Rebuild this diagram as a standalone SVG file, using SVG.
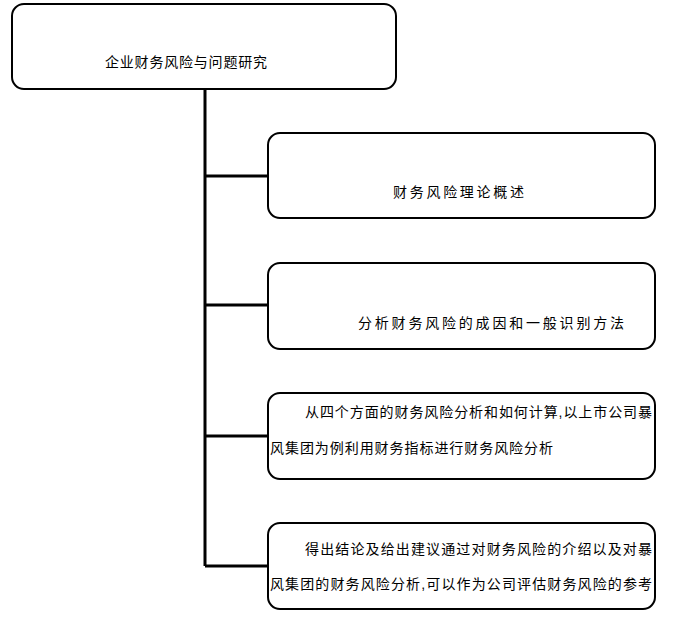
<svg xmlns="http://www.w3.org/2000/svg" width="684" height="617" viewBox="0 0 684 617">
<style>
.b{fill:#fff;stroke:#000;stroke-width:2}
.t{font-family:"Liberation Sans","Noto Sans CJK SC",sans-serif;font-size:14px;fill:#000}
.c{stroke:#000;stroke-width:3;fill:none}
</style>
<rect width="684" height="617" fill="#fff"/>
<g id="connectors">
<path class="c" d="M205 89V566M205 176H268M205 305H268M205 436H268M205 566H268"/>
</g>
<g id="root"><rect class="b" x="12" y="4" width="384" height="85" rx="12"/><text class="t" x="105" y="67" textLength="162">企业财务风险与问题研究</text></g>
<g id="n1"><rect class="b" x="268" y="133" width="387" height="85" rx="12"/><text class="t" x="393" y="197" textLength="131">财务风险理论概述</text></g>
<g id="n2"><rect class="b" x="268" y="263" width="387" height="86" rx="12"/><text class="t" x="358" y="328" textLength="266">分析财务风险的成因和一般识别方法</text></g>
<g id="n3"><rect class="b" x="268" y="393" width="387" height="86" rx="12"/><text class="t" x="305" y="417" textLength="347">从四个方面的财务风险分析和如何计算,以上市公司暴</text><text class="t" x="270" y="453" textLength="283">风集团为例利用财务指标进行财务风险分析</text></g>
<g id="n4"><rect class="b" x="268" y="523" width="387" height="86" rx="12"/><text class="t" x="305" y="554" textLength="347">得出结论及给出建议通过对财务风险的介绍以及对暴</text><text class="t" x="270" y="589" textLength="382">风集团的财务风险分析,可以作为公司评估财务风险的参考</text></g>
</svg>
